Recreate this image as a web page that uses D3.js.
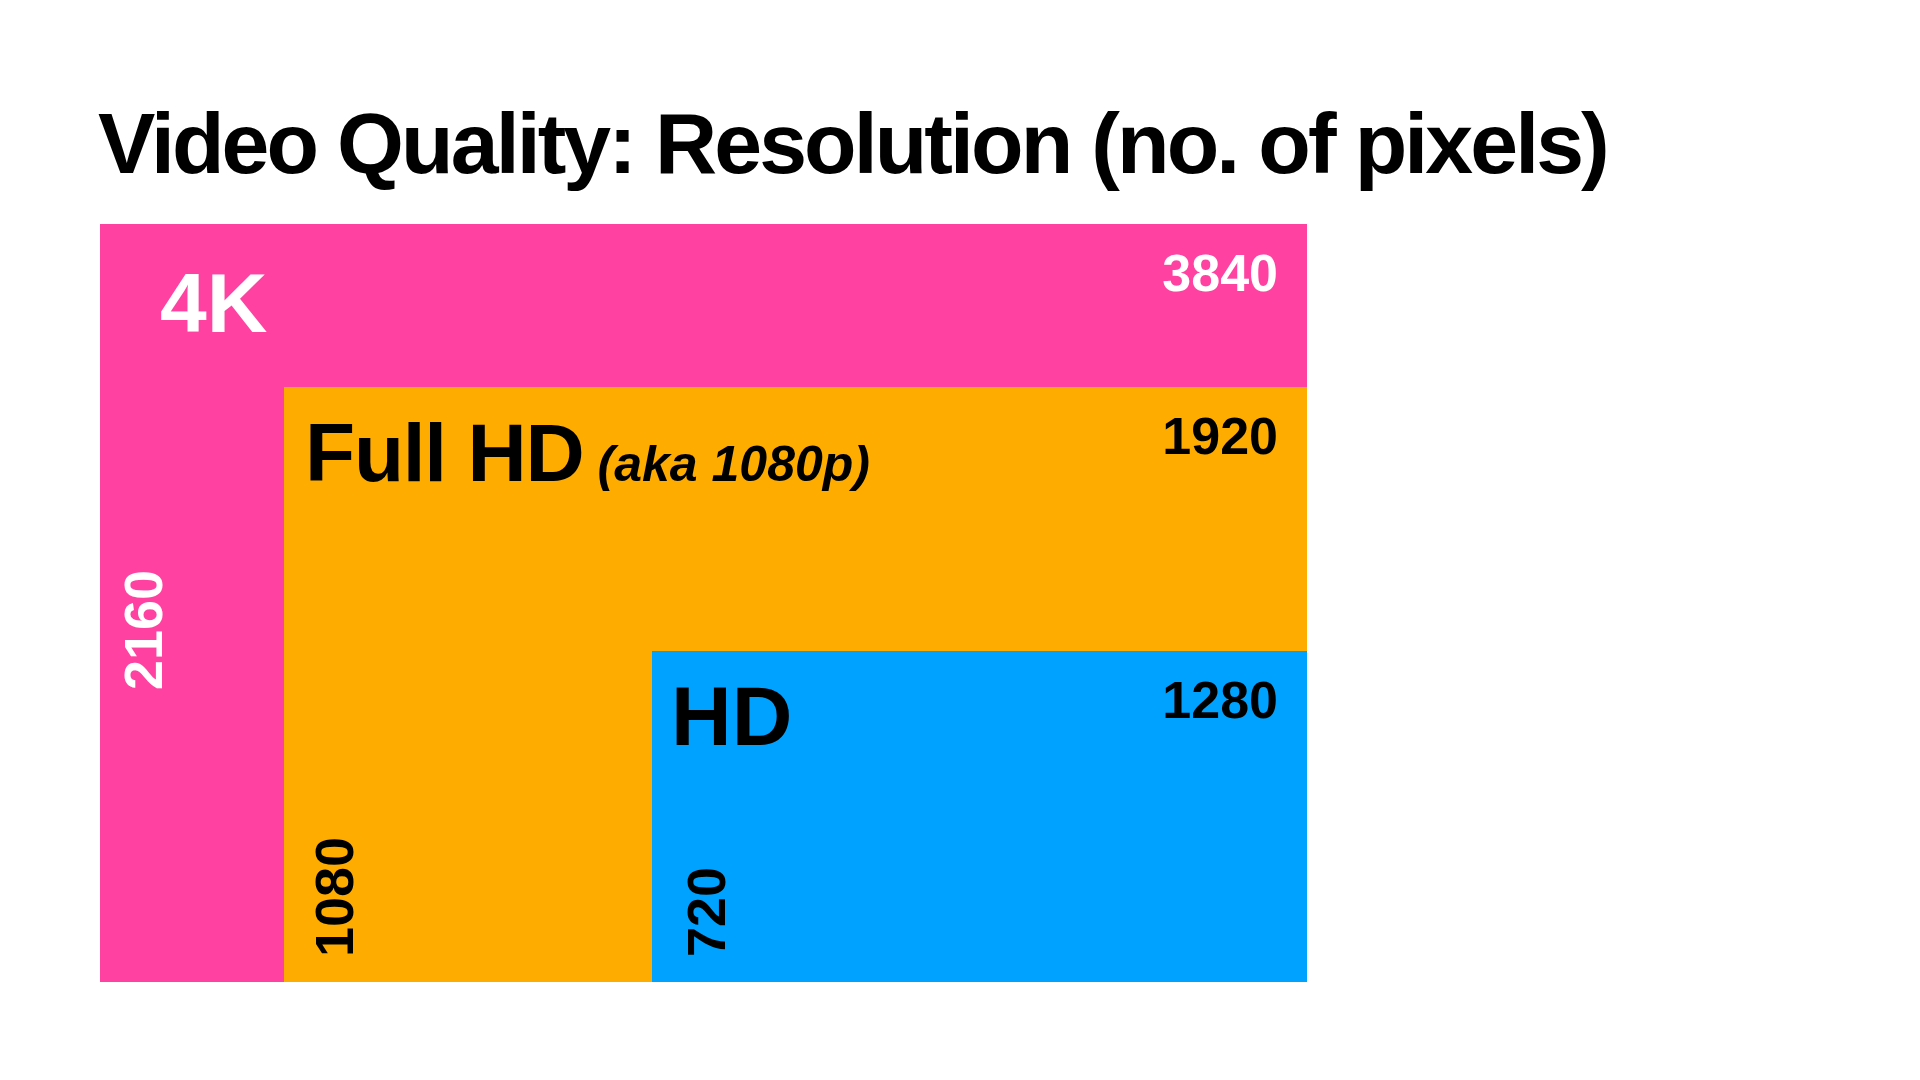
<!DOCTYPE html>
<html>
<head>
<meta charset="utf-8">
<script src="https://cdn.jsdelivr.net/npm/d3@7"></script>
<style>
  html, body { margin: 0; padding: 0; background: #fff; }
  svg { display: block; font-family: "Liberation Sans", Arial, Helvetica, sans-serif; }
</style>
</head>
<body>
<div id="chart"></div>
<script>
// Data
const formats = ['4K', 'Full HD', 'HD'];
const formatNotes = ['', '(aka 1080p)', ''];
const widthsPx = [3840, 1920, 1280];
const heightsPx = [2160, 1080, 720];
const titleText = 'Video Quality: Resolution (no. of pixels)';

const W = 1920, H = 1080;
const frame = { left: 100, right: 1307, top: 224, bottom: 982 };

const colors = d3.scaleOrdinal()
  .domain(formats)
  .range(['#ff42a1', '#ffac00', '#00a2ff']);
const inkColors = d3.scaleOrdinal()
  .domain(formats)
  .range(['#ffffff', '#000000', '#000000']);

// the diagram is not drawn to scale, so piecewise scales follow the picture
const xw = d3.scaleLinear()
  .domain([0, 1280, 1920, 3840])
  .range([0, 655, 1023, frame.right - frame.left]);
const yh = d3.scaleLinear()
  .domain([0, 720, 1080, 2160])
  .range([0, 331, 595, frame.bottom - frame.top]);

// label placement inside each box (name offset, rotated label start)
const nameStyle = [
  { dx: 60, dy: 108, size: 84 },
  { dx: 21, dy: 94, size: 82 },
  { dx: 19, dy: 94, size: 84 }
];
const sideLabel = [
  { dx: 62, up: 292 },
  { dx: 69, up: 25 },
  { dx: 73, up: 25 }
];

const rows = formats.map((f, i) => ({
  name: f,
  note: formatNotes[i],
  w: widthsPx[i],
  h: heightsPx[i],
  x: frame.right - xw(widthsPx[i]),
  y: frame.bottom - yh(heightsPx[i]),
  ns: nameStyle[i],
  sl: sideLabel[i]
}));

const svg = d3.select('#chart')
  .append('svg')
  .attr('width', W)
  .attr('height', H)
  .attr('viewBox', `0 0 ${W} ${H}`);

// Title
svg.append('text')
  .attr('x', 98)
  .attr('y', 173)
  .attr('font-size', 86)
  .attr('font-weight', 700)
  .attr('letter-spacing', -2.9)
  .attr('fill', '#000')
  .text(titleText);

// Boxes
svg.selectAll('rect.box')
  .data(rows)
  .join('rect')
  .attr('class', 'box')
  .attr('x', d => d.x)
  .attr('y', d => d.y)
  .attr('width', d => xw(d.w))
  .attr('height', d => yh(d.h))
  .attr('fill', d => colors(d.name));

const g = svg.selectAll('g.lbl')
  .data(rows)
  .join('g')
  .attr('class', 'lbl');

// Format names
const names = g.append('text')
  .attr('x', d => d.x + d.ns.dx)
  .attr('y', d => d.y + d.ns.dy)
  .attr('font-size', d => d.ns.size)
  .attr('font-weight', 700)
  .attr('fill', d => inkColors(d.name));
names.append('tspan')
  .attr('letter-spacing', d => d.note ? -1.2 : 0)
  .text(d => d.name);
names.filter(d => d.note)
  .append('tspan')
  .attr('dx', 14)
  .attr('font-size', 50)
  .attr('font-style', 'italic')
  .attr('letter-spacing', 0)
  .text(d => d.note);

// Width labels (top right)
g.append('text')
  .attr('x', d => d.x + xw(d.w) - 29)
  .attr('y', d => d.y + 67)
  .attr('text-anchor', 'end')
  .attr('font-size', 52)
  .attr('font-weight', 700)
  .attr('fill', d => inkColors(d.name))
  .text(d => d.w);

// Height labels (rotated, left side)
g.append('text')
  .attr('transform', d => `translate(${d.x + d.sl.dx},${frame.bottom - d.sl.up}) rotate(-90)`)
  .attr('font-size', 54)
  .attr('font-weight', 700)
  .attr('fill', d => inkColors(d.name))
  .text(d => d.h);
</script>
</body>
</html>
